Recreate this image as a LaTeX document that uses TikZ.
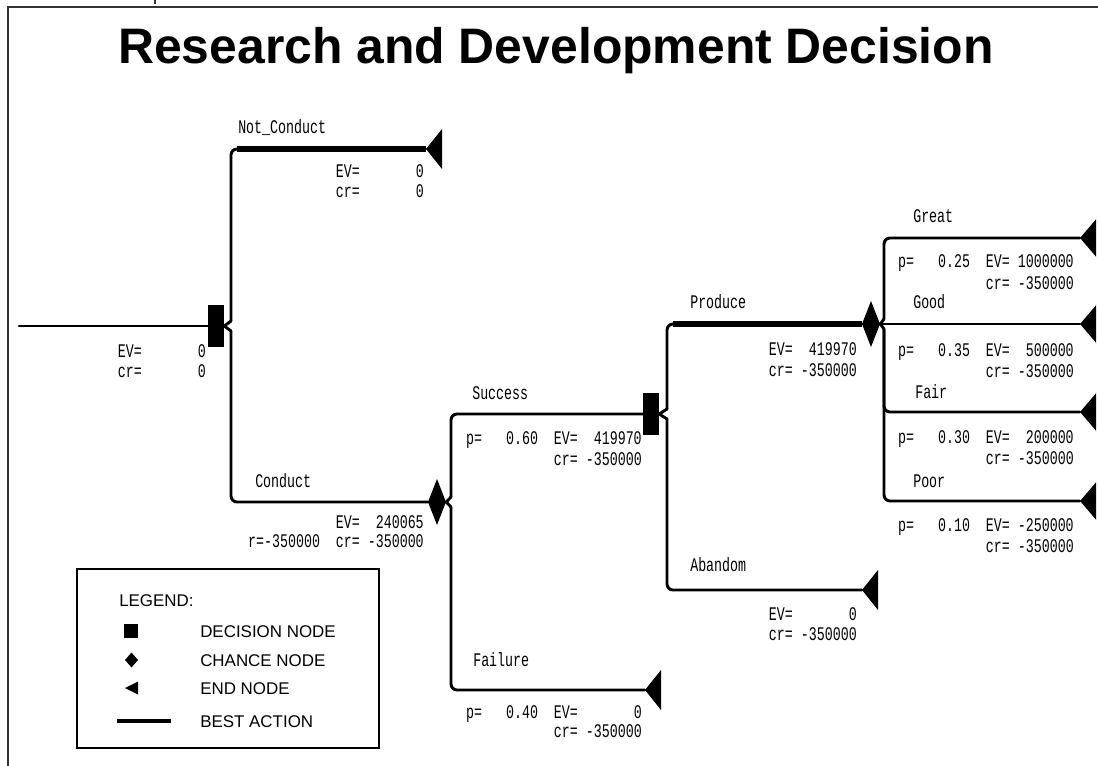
\documentclass[tikz,border=0pt]{standalone}
\usepackage{fontspec}
\setmainfont{Liberation Sans}
\newfontfamily\plotfont[FakeStretch=0.69]{Liberation Mono}
\begin{document}
\begin{tikzpicture}[x=0.75pt,y=-0.75pt,
  edge/.style={line width=2.2pt, line join=round, line cap=round},
  rc/.style={rounded corners=4.5pt},
  best/.style={line width=4.5pt},
  lbl/.style={font=\plotfont\fontsize{14.45}{16}\selectfont, inner sep=0pt, anchor=base west},
  val/.style={font=\plotfont\fontsize{14.45}{16}\selectfont, inner sep=0pt, anchor=base east},
  legtext/.style={font=\fontsize{12.7}{15}\selectfont, inner sep=0pt, anchor=base west},
  dec/.style={fill=black, minimum width=12pt, minimum height=31.5pt, inner sep=0pt},
  chn/.style={minimum width=13.5pt, minimum height=34.5pt, inner sep=0pt,
    path picture={\fill (path picture bounding box.west) -- (path picture bounding box.north)
      -- (path picture bounding box.east) -- (path picture bounding box.south) -- cycle;}},
  endn/.style={minimum width=12pt, minimum height=30pt, inner sep=0pt,
    path picture={\fill (path picture bounding box.west) -- (path picture bounding box.north east)
      -- (path picture bounding box.south east) -- cycle;}},
  frame/.style={line width=1pt, draw=black!80}
]
\useasboundingbox (0,0) rectangle (1098,766);

% frame
\draw[frame] (8,766) -- (8,7) -- (1098,7);
\draw[frame] (155,0) -- (155,4);

% title
\node[font=\bfseries\fontsize{37.4}{42}\selectfont, anchor=base, inner sep=0pt] (title) at (556,64)
  {Research and Development Decision};

% nodes
\coordinate (start) at (19,326);
\node[dec] (root) at (216,326) {};
\node[endn] (nc) at (434,149) {};
\node[chn] (c1) at (437,502) {};
\node[dec] (d2) at (651,414) {};
\node[endn] (fl) at (653,690) {};
\node[chn] (c3) at (871,324) {};
\node[endn] (ab) at (870,590) {};
\node[endn, minimum height=28pt] (gt) at (1088,238) {};
\node[endn, minimum height=28pt] (gd) at (1088,324) {};
\node[endn, minimum height=28pt] (fr) at (1088,412) {};
\node[endn, minimum height=28pt] (pr) at (1088,501) {};

% connectors
\draw[edge] (start) -- (root.west);

\coordinate (r1u) at (231,321);
\coordinate (r1d) at (231,331);
\draw[edge] (r1u) -- (root.east) -- (r1d);
\draw[edge, rc] (r1u) -- (231,149) -- (nc.west);
\draw[edge, rc] (r1d) -- (231,502) -- (c1.west);

\coordinate (b1u) at (451,497);
\coordinate (b1d) at (451,507);
\draw[edge] (b1u) -- (c1.east) -- (b1d);
\draw[edge, rc] (b1u) -- (451,414) -- (d2.west);
\draw[edge, rc] (b1d) -- (451,690) -- (fl.west);

\coordinate (b2u) at (667,409);
\coordinate (b2d) at (667,419);
\draw[edge] (b2u) -- (d2.east) -- (b2d);
\draw[edge, rc] (b2u) -- (667,324) -- (c3.west);
\draw[edge, rc] (b2d) -- (667,590) -- (ab.west);

\coordinate (b3u) at (884,319);
\coordinate (b3d) at (884,329);
\draw[edge] (b3u) -- (c3.east) -- (b3d);
\draw[edge] (c3.east) -- (gd.west);
\draw[edge, rc] (b3u) -- (884,238) -- (gt.west);
\draw[edge, rc] (b3d) -- (884,412) -- (fr.west);
\draw[edge, rc] (b3d) -- (884,501) -- (pr.west);

% best actions
\coordinate (ncs) at (237,149);
\draw[best] (ncs) -- (nc.west);
\coordinate (prs) at (673,324);
\draw[best] (prs) -- (c3.west);

% labels and values
\node[val] (rootev) at (206,357) {EV=~~~~~~~0};
\node[val] (rootcr) at (206,377) {cr=~~~~~~~0};

\node[lbl] (ncl) at (238,134) {Not\_Conduct};
\node[val] (ncev) at (424,178) {EV=~~~~~~~0};
\node[val] (nccr) at (424,198) {cr=~~~~~~~0};

\node[lbl] (cdl) at (255,487) {Conduct};
\node[val] (cdev) at (424,528) {EV=~~240065};
\node[val] (cdcr) at (424,547) {r=-350000~~cr=~-350000};

\node[lbl] (scl) at (472,399) {Success};
\node[val] (scev) at (642,444) {p=~~~0.60~~EV=~~419970};
\node[val] (sccr) at (642,465) {cr=~-350000};

\node[lbl] (fll) at (473,666) {Failure};
\node[val] (flev) at (642,718) {p=~~~0.40~~EV=~~~~~~~0};
\node[val] (flcr) at (642,737) {cr=~-350000};

\node[lbl] (prl) at (690,309) {Produce};
\node[val] (prev) at (857,355) {EV=~~419970};
\node[val] (prcr) at (857,376) {cr=~-350000};

\node[lbl] (abl) at (690,571) {Abandom};
\node[val] (abev) at (857,620) {EV=~~~~~~~0};
\node[val] (abcr) at (857,640) {cr=~-350000};

\node[lbl] (gtl) at (913,223) {Great};
\node[val] (gtev) at (1074,268) {p=~~~0.25~~EV=~1000000};
\node[val] (gtcr) at (1074,290) {cr=~-350000};

\node[lbl] (gdl) at (913,309) {Good};
\node[val] (gdev) at (1074,356) {p=~~~0.35~~EV=~~500000};
\node[val] (gdcr) at (1074,377) {cr=~-350000};

\node[lbl] (frl) at (915,398) {Fair};
\node[val] (frev) at (1074,443) {p=~~~0.30~~EV=~~200000};
\node[val] (frcr) at (1074,464) {cr=~-350000};

\node[lbl] (prpl) at (913,487) {Poor};
\node[val] (prpev) at (1074,531) {p=~~~0.10~~EV=~-250000};
\node[val] (prpcr) at (1074,552) {cr=~-350000};

% legend
\node[draw, line width=0.9pt, minimum width=226.5pt, minimum height=134.25pt, inner sep=0pt] (legend) at (228,658.5) {};
\node[legtext] (legt) at (119,606) {LEGEND:};
\node[fill=black, minimum size=10.5pt, inner sep=0pt] (lgsq) at (131,631) {};
\node[legtext] (lgsqt) at (200,637) {DECISION NODE};
\node[chn, minimum width=9.75pt, minimum height=11.25pt] (lgdi) at (131.5,660) {};
\node[legtext] (lgdit) at (200,666) {CHANCE NODE};
\node[endn, minimum width=9.75pt, minimum height=9.75pt] (lgtr) at (131.5,688) {};
\node[legtext] (lgtrt) at (200,694) {END NODE};
\coordinate (lgl1) at (117,721);
\coordinate (lgl2) at (171,721);
\draw[line width=3pt] (lgl1) -- (lgl2);
\node[legtext] (lglt) at (200,727) {BEST ACTION};
\end{tikzpicture}
\end{document}
